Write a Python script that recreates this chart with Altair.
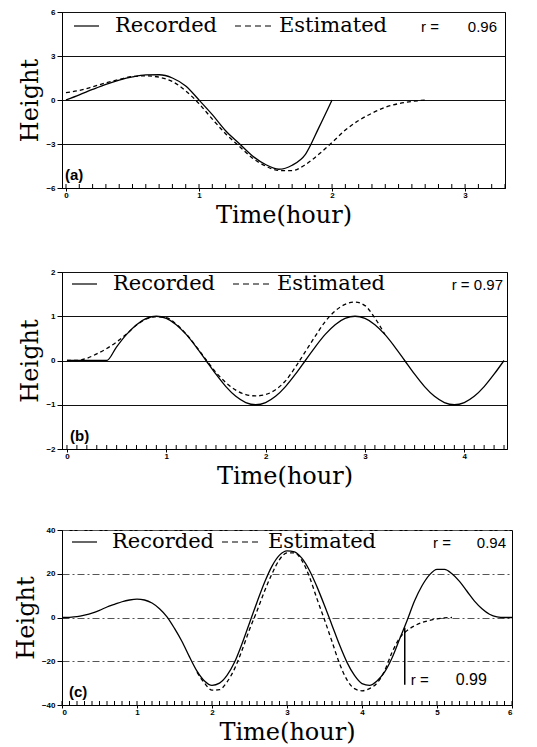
import altair as alt
import pandas as pd

# ---------------- Panel (a) ----------------
a_t_rec = [round(0.1 * i, 1) for i in range(21)]
a_rec = [0, 0.35, 0.72, 1.07, 1.36, 1.58, 1.71, 1.72, 1.5, 0.95, 0.0,
         -1.0, -2.1, -2.95, -3.8, -4.4, -4.72, -4.45, -3.7, -1.9, 0]
a_t_est = [round(0.1 * i, 1) for i in range(28)]
a_est = [0.5, 0.65, 0.9, 1.17, 1.4, 1.6, 1.65, 1.55, 1.26, 0.62, -0.25,
         -1.3, -2.3, -3.13, -3.95, -4.5, -4.8, -4.82, -4.4, -3.7, -2.9,
         -2.05, -1.4, -0.9, -0.5, -0.25, -0.1, 0]

# ---------------- Panel (b) ----------------
b_t_rec = [round(0.1 * i, 1) for i in range(45)]
b_rec = [0, 0, 0, 0, 0,
         0.31, 0.59, 0.81, 0.95, 1.0, 0.95, 0.81, 0.59, 0.31, 0,
         -0.31, -0.59, -0.81, -0.95, -1.0, -0.95, -0.81, -0.59, -0.31, 0,
         0.31, 0.59, 0.81, 0.95, 1.0, 0.95, 0.81, 0.59, 0.31, 0,
         -0.31, -0.59, -0.81, -0.95, -1.0, -0.95, -0.81, -0.59, -0.31, 0]
b_t_est = [round(0.1 * i, 1) for i in range(33)]
b_est = [0, 0, 0.05, 0.15, 0.27, 0.42, 0.6, 0.8, 0.94, 0.99, 0.97, 0.82,
         0.6, 0.32, 0.02, -0.27, -0.5, -0.67, -0.77, -0.8, -0.77, -0.66,
         -0.46, -0.15, 0.2, 0.55, 0.88, 1.12, 1.27, 1.32, 1.24, 0.96, 0.59]

# ---------------- Panel (c) ----------------
c_t_rec = [round(0.1 * i, 1) for i in range(61)]
c_rec = [0, 0.1, 0.4, 1.1, 2.0, 3.3, 4.8, 6.0, 7.2, 8.0, 8.4, 8.0, 6.6, 4.0,
         0.3, -5, -11, -18, -24.5, -29, -31, -30, -26.5, -20.5, -12, -2.5,
         7, 16, 23.5, 28.5, 30.5, 30, 27, 21.5, 14, 5.5, -3.5, -12.5, -20.5,
         -26.5, -30.2, -31, -29, -25, -18.5, -10, -1.5, 7.5, 14.5, 19.5, 22,
         22, 20, 16.5, 12, 7.5, 4, 1.5, 0.3, 0, 0]
c_t_est = [round(1.8 + 0.1 * i, 1) for i in range(35)]
c_est = [-25, -30, -33.2, -33, -29.5, -23.5, -15, -5.5, 3, 12, 20, 26.5,
         29.5, 29.5, 26, 18.5, 8.5, -1, -11, -21, -28.5, -32.5, -33.5,
         -32.5, -30, -24.5, -16, -9.5, -6, -3.8, -2.3, -1.3, -0.6, -0.2, 0]
c_mark_t = [4.57]
c_mark_top = [-4.7]
c_mark_bottom = [-30.7]
c_mark_y = [-28.5]

LABEL_FONT = "Liberation Sans"
SERIF = "DejaVu Serif"


def panel(t_rec, rec, t_est, est, xdom, ydom, yticks, xticks, W, H,
          gridcolor, griddash, tag, rparts, leg, extra=None):
    df_rec = pd.DataFrame({"t": t_rec, "v": rec})
    df_est = pd.DataFrame({"t": t_est, "v": est})
    xs = alt.Scale(domain=xdom, nice=False, zero=False)
    ys = alt.Scale(domain=ydom, nice=False, zero=False)
    xax = alt.Axis(values=xticks, title="Time(hour)", grid=False, format="d",
                   tickSize=3, labelPadding=0, titlePadding=4,
                   labelFont=LABEL_FONT, labelFontSize=8, labelFontWeight="bold",
                   titleFont=SERIF, titleFontSize=24, titleFontWeight="normal",
                   domainColor="black", tickColor="black", labelColor="black",
                   titleColor="black")
    gaxis = dict(gridColor=gridcolor, gridWidth=1)
    if griddash:
        gaxis["gridDash"] = griddash
    yax = alt.Axis(values=yticks, title="Height", grid=True, format="d",
                   tickSize=5, labelPadding=2, titlePadding=3,
                   labelFont=LABEL_FONT, labelFontSize=8, labelFontWeight="bold",
                   titleFont=SERIF, titleFontSize=24, titleFontWeight="normal",
                   domainColor="black", tickColor="black", labelColor="black",
                   titleColor="black", **gaxis)
    rec_line = alt.Chart(df_rec).mark_line(color="black", strokeWidth=1.3,
                                           interpolate="monotone").encode(
        x=alt.X("t:Q", scale=xs, axis=xax),
        y=alt.Y("v:Q", scale=ys, axis=yax),
    )
    est_line = alt.Chart(df_est).mark_line(color="black", strokeWidth=1.3,
                                           strokeDash=[4, 3],
                                           interpolate="monotone").encode(
        x=alt.X("t:Q", scale=xs), y=alt.Y("v:Q", scale=ys))
    lo = xdom[0]
    minor = [round(0.1 * i, 1) for i in range(0, int(xdom[1] * 10) + 1)
             if round(0.1 * i, 1) >= lo]
    minor_df = pd.DataFrame({"t": minor})
    minor_ticks = alt.Chart(minor_df).mark_rule(color="black", strokeWidth=1).encode(
        x=alt.X("t:Q", scale=xs), y=alt.value(H), y2=alt.value(H - 4))

    one = pd.DataFrame({"k": [0]})
    l1, l2, l3, l4, ry = leg
    leg_solid = alt.Chart(one).mark_rule(color="black", strokeWidth=1.2).encode(
        x=alt.value(l1), x2=alt.value(l1 + 25), y=alt.value(ry))
    leg_dash = alt.Chart(one).mark_rule(color="black", strokeWidth=1.2,
                                        strokeDash=[6, 4]).encode(
        x=alt.value(l3), x2=alt.value(l3 + 40), y=alt.value(ry))
    txt_rec = alt.Chart(one).mark_text(font=SERIF, fontSize=21, align="left",
                                       baseline="middle", color="black").encode(
        x=alt.value(l2), y=alt.value(ry), text=alt.value("Recorded"))
    txt_est = alt.Chart(one).mark_text(font=SERIF, fontSize=21, align="left",
                                       baseline="middle", color="black").encode(
        x=alt.value(l4), y=alt.value(ry), text=alt.value("Estimated"))
    layers = [rec_line, est_line, minor_ticks, leg_solid, leg_dash,
              txt_rec, txt_est]
    for s, xr in rparts:
        layers.append(alt.Chart(one).mark_text(
            font=LABEL_FONT, fontSize=15, align="right", baseline="middle",
            color="black").encode(x=alt.value(xr), y=alt.value(ry + 1),
                                  text=alt.value(s)))
    txt_tag = alt.Chart(one).mark_text(font=LABEL_FONT, fontSize=15, fontWeight="bold",
                                       align="left", baseline="middle",
                                       color="black").encode(
        x=alt.value(tag[1]), y=alt.value(H - 13), text=alt.value(tag[0]))
    layers.append(txt_tag)
    if extra is not None:
        layers += extra(xs, ys)
    return alt.layer(*layers).properties(width=W, height=H)


def c_extra(xs, ys):
    mdf = pd.DataFrame({"t": c_mark_t, "v": c_mark_top, "v2": c_mark_bottom,
                        "y": c_mark_y})
    vline = alt.Chart(mdf).mark_rule(color="black", strokeWidth=1.5).encode(
        x=alt.X("t:Q", scale=xs), y=alt.Y("v:Q", scale=ys), y2="v2:Q")
    t1 = alt.Chart(mdf).mark_text(font=LABEL_FONT, fontSize=15, align="left",
                                  baseline="middle", dx=6,
                                  color="black").encode(
        x=alt.X("t:Q", scale=xs), y=alt.Y("y:Q", scale=ys), text=alt.value("r ="))
    t2 = alt.Chart(mdf).mark_text(font=LABEL_FONT, fontSize=16, align="left",
                                  baseline="middle", dx=51,
                                  color="black").encode(
        x=alt.X("t:Q", scale=xs), y=alt.Y("y:Q", scale=ys), text=alt.value("0.99"))
    return [vline, t1, t2]


pa = panel(a_t_rec, a_rec, a_t_est, a_est, [-0.03, 3.30], [-6, 6],
           [-6, -3, 0, 3, 6], [0, 1, 2, 3], 443, 176, "#111", None,
           ("(a)", 3), [("r =", 377), ("0.96", 435)], (12, 53, 173, 217, 14))
pb = panel(b_t_rec, b_rec, b_t_est, b_est, [-0.05, 4.43], [-2, 2],
           [-2, -1, 0, 1, 2], [0, 1, 2, 3, 4], 445, 177, "#111", None,
           ("(b)", 8), [("r = 0.97", 441)], (10, 51, 171, 215, 12))
pc = panel(c_t_rec, c_rec, c_t_est, c_est, [0, 6], [-40, 40],
           [-40, -20, 0, 20, 40], [0, 1, 2, 3, 4, 5, 6], 450, 175, "#555",
           [7, 3, 2, 3], ("(c)", 7), [("r =", 389), ("0.94", 444)],
           (10, 50, 160, 206, 12), extra=c_extra)

chart = alt.vconcat(alt.vconcat(pa, pb, spacing=39), pc, spacing=36).properties(
    padding={"left": 13, "top": 7, "right": 5, "bottom": 0},
    background="white",
).configure_view(stroke="black", strokeWidth=1)

chart.save("out.html", embed_options={"renderer": "svg", "actions": False})
